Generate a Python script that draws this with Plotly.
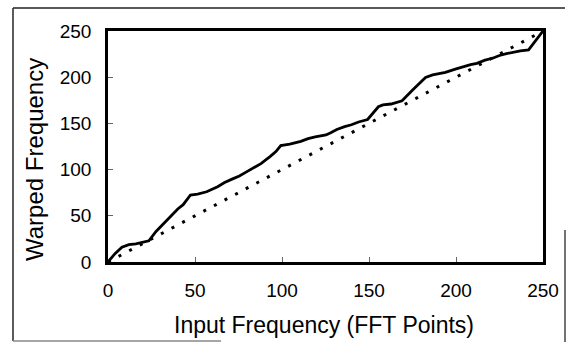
import plotly.graph_objects as go

# Warped frequency mapping (solid)
warp_x = [0, 4, 8, 12, 16, 20, 23.5, 27.6, 32.8, 36.5, 40.1, 43.2, 45.5, 47.4, 51.5, 56.7,
          63, 67, 71.3, 75.5, 79.6, 84, 87.9, 93.1, 96.5, 99.3, 104.5, 110.8, 115, 119.1,
          125.3, 128, 131.5, 136, 139.9, 144, 149.2, 155.4, 158, 162.7, 166, 169,
          175.2, 182.5, 186.6, 190, 193.9, 200.1, 204, 208.4, 212, 216.7, 221, 225,
          229, 233.4, 237, 241.7, 250]
warp_y = [0, 9, 16, 18.7, 19.5, 21.5, 23, 33, 43, 50, 57.4, 62, 68, 72.5, 73.5, 76,
          81.5, 86, 89.7, 93, 97.5, 102, 106.5, 114, 119.5, 126, 127.5, 130.5, 133.5, 135.5,
          137.5, 140, 143.5, 146.5, 148.5, 151.5, 154.2, 168, 170, 171, 172.5, 174.5,
          186.5, 199.8, 202.5, 203.5, 205.2, 209, 211.5, 213.5, 215, 218.5, 220.5, 223.5,
          225.5, 227.5, 228.5, 229.6, 250]

# Linear (unwarped) reference, dotted
lin_x = [0, 250]
lin_y = [0, 250]

tick_vals = [0, 50, 100, 150, 200, 250]
tick_text = ["0", "50", "100", "150", "200", "250"]

x_title = "Input Frequency (FFT Points)"
y_title = "Warped Frequency"

W, H = 568, 345
# plot-area pixel box
X0, X1, Y0, Y1 = 108, 543, 31, 262


def fx(x):
    return x / W


def fy(y):
    return 1 - y / H


fig = go.Figure()
fig.add_trace(go.Scatter(x=lin_x, y=lin_y, mode="lines",
                         line=dict(color="black", width=3, dash="3px,9px"),
                         showlegend=False, hoverinfo="skip"))
fig.add_trace(go.Scatter(x=warp_x, y=warp_y, mode="lines",
                         line=dict(color="black", width=2.8),
                         showlegend=False))

font_family = "Liberation Sans, Arial, sans-serif"
fig.update_layout(
    width=W, height=H,
    margin=dict(l=0, r=0, t=0, b=0, autoexpand=False),
    showlegend=False,
    paper_bgcolor="white", plot_bgcolor="white",
    font=dict(family=font_family, color="black"),
    xaxis=dict(domain=[fx(X0), fx(X1)], range=[0, 250], automargin=False,
               tickvals=tick_vals, ticktext=tick_text,
               ticks="inside", ticklen=5, tickwidth=1, tickcolor="#666",
               showgrid=False, zeroline=False,
               showline=True, linecolor="black", linewidth=2.5, mirror=True,
               tickfont=dict(size=19), ticklabelstandoff=9),
    yaxis=dict(domain=[fy(Y1), fy(Y0)], range=[0, 250], automargin=False,
               tickvals=tick_vals, ticktext=tick_text,
               ticks="inside", ticklen=5, tickwidth=1, tickcolor="#666",
               showgrid=False, zeroline=False,
               showline=True, linecolor="black", linewidth=2.5, mirror=True,
               tickfont=dict(size=19), ticklabelstandoff=10),
)

fig.add_annotation(text=x_title, xref="paper", yref="paper",
                   x=fx(324), y=fy(325), xanchor="center", yanchor="middle",
                   showarrow=False, font=dict(size=23))
fig.add_annotation(text=y_title, xref="paper", yref="paper", textangle=-90,
                   x=fx(34), y=fy(160), xanchor="center", yanchor="middle",
                   showarrow=False, font=dict(size=24))

# scanned outer frame pieces (pixel positions)
frame = [
    (13, 8, 565, 8, "#222", 1.6),
    (13, 8, 13, 341, "#333", 1.6),
    (13, 341, 221, 341, "#888", 1.5),
    (565, 230, 565, 342, "#444", 1.5),
]
for x0, y0, x1, y1, c, w in frame:
    fig.add_shape(type="line", xref="paper", yref="paper",
                  x0=fx(x0), x1=fx(x1), y0=fy(y0), y1=fy(y1),
                  line=dict(color=c, width=w))

fig.write_html("out.html")
